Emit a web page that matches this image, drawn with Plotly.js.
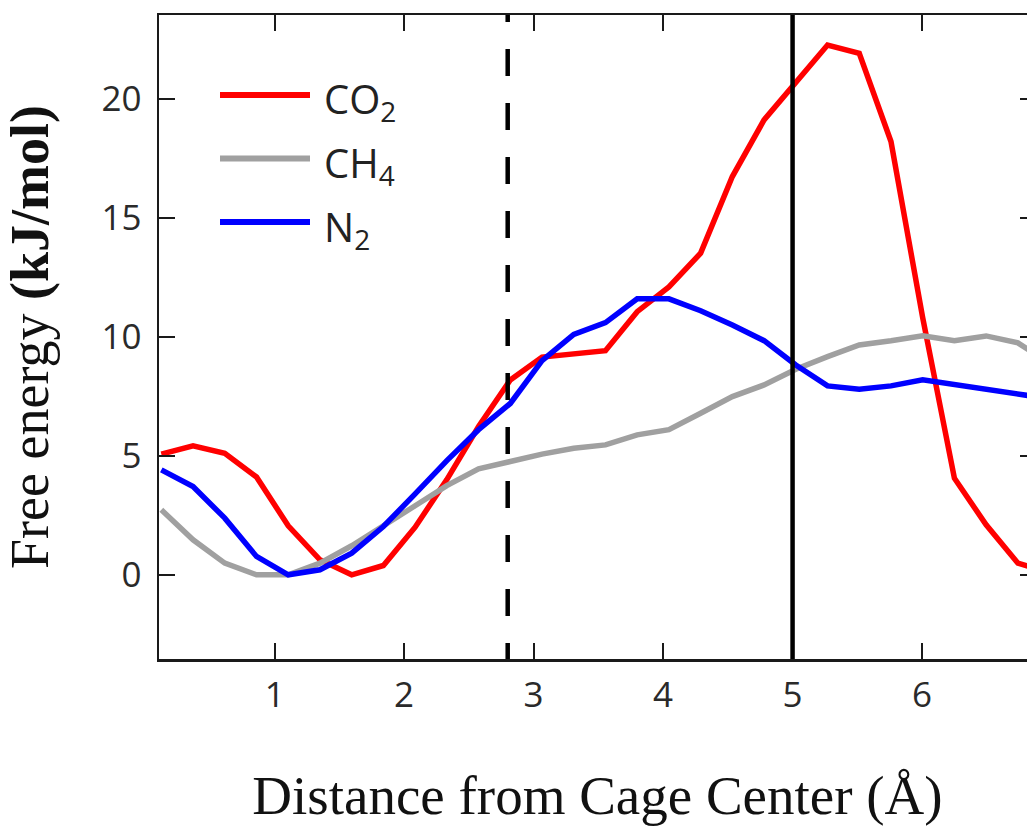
<!DOCTYPE html>
<html>
<head>
<meta charset="utf-8">
<script src="https://cdn.plot.ly/plotly-3.0.1.min.js"></script>
<style>
  html, body { margin: 0; padding: 0; overflow: hidden; background: #fff; }
  #chart { width: 1045px; height: 829px; }
</style>
</head>
<body>
<div id="chart"></div>
<script>
// Distance from cage center (Å)
const distance = [0.125, 0.37, 0.615, 0.86, 1.105, 1.35, 1.595, 1.84, 2.085, 2.33,
                  2.575, 2.82, 3.065, 3.31, 3.555, 3.8, 4.045, 4.29, 4.535, 4.78,
                  5.025, 5.27, 5.515, 5.76, 6.005, 6.25, 6.495, 6.74, 6.985];
// Free energy (kJ/mol)
const co2 = [5.07, 5.42, 5.11, 4.11, 2.06, 0.63, 0.0, 0.39, 2.0, 4.0,
             6.23, 8.19, 9.15, 9.29, 9.42, 11.06, 12.1, 13.52, 16.74, 19.12,
             20.7, 22.27, 21.92, 18.21, 10.8, 4.06, 2.1, 0.49, 0.1];
const ch4 = [2.73, 1.47, 0.49, 0.0, 0.0, 0.49, 1.22, 2.03, 2.9, 3.75,
             4.45, 4.76, 5.07, 5.32, 5.46, 5.88, 6.1, 6.79, 7.49, 7.98,
             8.64, 9.17, 9.66, 9.84, 10.05, 9.84, 10.04, 9.75, 8.9];
const n2  = [4.41, 3.71, 2.38, 0.77, 0.0, 0.21, 0.91, 2.03, 3.4, 4.8,
             6.1, 7.2, 9.0, 10.1, 10.6, 11.6, 11.6, 11.1, 10.5, 9.84,
             8.82, 7.94, 7.8, 7.94, 8.2, 8.0, 7.8, 7.62, 7.4];
const seriesNames = ['CO<sub>2</sub>', 'CH<sub>4</sub>', 'N<sub>2</sub>'];
const seriesColors = ['#ff0000', '#a0a0a0', '#0000ff'];
const markerLines = [2.8, 5.0];
const xTicks = [1, 2, 3, 4, 5, 6];
const yTicks = [0, 5, 10, 15, 20];

const xRange = [0.107, 6.88];
const yRange = [-3.54, 23.53];

const traces = [
  {x: distance, y: co2, name: seriesNames[0]},
  {x: distance, y: ch4, name: seriesNames[1]},
  {x: distance, y: n2,  name: seriesNames[2]}
].map((t, i) => Object.assign(t, {
  type: 'scatter', mode: 'lines',
  line: {color: seriesColors[i], width: 5.5},
  showlegend: false, hoverinfo: 'skip'
}));

// vertical reference lines
const shapes = [
  {type: 'line', xref: 'x', yref: 'y', x0: markerLines[0], x1: markerLines[0],
   y0: 24.37, y1: yRange[0], line: {color: '#000', width: 4.5, dash: '27px,27px'}},
  {type: 'line', xref: 'x', yref: 'y', x0: markerLines[1], x1: markerLines[1],
   y0: yRange[0], y1: yRange[1], line: {color: '#000', width: 4.5}}
];

// custom legend (long line swatches)
const plotL = 159, plotW = 877, plotT = 15, plotH = 644;
const px = v => (v - plotL) / plotW;
const py = v => (plotT + plotH - v) / plotH;
const legendY = [95, 158.5, 222];
const annotations = [];
legendY.forEach((yy, i) => {
  shapes.push({type: 'line', xref: 'paper', yref: 'paper',
    x0: px(220), x1: px(310), y0: py(yy), y1: py(yy),
    line: {color: seriesColors[i], width: 6}});
  annotations.push({xref: 'paper', yref: 'paper', x: px(322), y: py(yy + 6),
    xanchor: 'left', yanchor: 'middle', showarrow: false,
    text: seriesNames[i],
    font: {family: 'Open Sans, Noto Sans, sans-serif', size: 40, color: '#222'}});
});

const tickFont = {family: 'Open Sans, Noto Sans, sans-serif', size: 35, color: '#2a2a2a'};

const layout = {
  width: 1045, height: 829,
  margin: {l: plotL, r: 1045 - plotL - plotW, t: plotT, b: 829 - plotT - plotH},
  paper_bgcolor: '#fff', plot_bgcolor: '#fff',
  xaxis: {
    range: xRange, tickvals: xTicks, ticktext: xTicks.map(String),
    showgrid: false, zeroline: false,
    showline: true, linecolor: '#1a1a1a', linewidth: 2.5, mirror: 'ticks',
    ticks: 'inside', ticklen: 16, tickwidth: 2, tickcolor: '#1a1a1a',
    ticklabelstandoff: 3,
    tickfont: tickFont,
    title: {text: 'Distance from Cage Center (Å)', standoff: 60,
            font: {family: 'Liberation Serif, Times New Roman, serif', size: 55, color: '#111'}}
  },
  yaxis: {
    range: yRange, tickvals: yTicks, ticktext: yTicks.map(String),
    showgrid: false, zeroline: false,
    showline: true, linecolor: '#1a1a1a', linewidth: 2.5, mirror: 'ticks',
    ticks: 'inside', ticklen: 16, tickwidth: 2, tickcolor: '#1a1a1a',
    ticklabelstandoff: 8,
    tickfont: tickFont,
    title: {text: 'Free energy <b>(kJ/mol)</b>', standoff: 44,
            font: {family: 'Liberation Serif, Times New Roman, serif', size: 54, color: '#111'}}
  },
  shapes: shapes,
  annotations: annotations,
  showlegend: false
};

Plotly.newPlot('chart', traces, layout, {staticPlot: true, displayModeBar: false});
</script>
</body>
</html>
